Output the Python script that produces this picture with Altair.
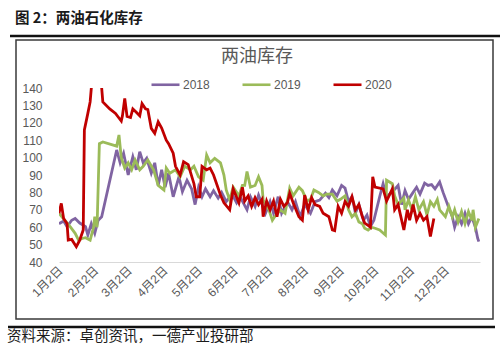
import altair as alt
import pandas as pd

# ---------------- data (day of year, value) ----------------
years = ["2018", "2019", "2020"]
colors = ["#8064A2", "#9BBB59", "#C00000"]

days_2018 = [1, 5, 8, 12, 15, 19, 24, 26, 29, 32,
             35, 38, 51, 54, 57, 61, 65, 68, 71, 74,
             77, 81, 84, 87, 90, 93, 96, 100, 105, 108,
             112, 116, 119, 122, 125, 128, 132, 135, 139, 142,
             146, 151, 155, 158, 164, 167, 171, 174, 180, 184,
             187, 191, 194, 199, 203, 206, 210, 214, 219, 223,
             227, 232, 235, 238, 242, 246, 249, 252, 255, 258,
             261, 265, 268, 271, 274, 279, 282, 285, 291, 295,
             298, 301, 304, 307, 311, 314, 318, 321, 324, 327,
             331, 334, 339, 342, 344, 347, 350, 353, 356, 359,
             362, 364, 365]
vals_2018 = [62, 63.5, 60.3, 64, 65, 62.4, 60.3, 55.5, 62, 56.5,
             64, 66, 104.4, 97, 102.5, 90, 100.5, 93, 103.4, 97,
             99.6, 91, 97, 84, 93, 83, 91, 77.5, 89, 80.4,
             87, 82, 73, 83, 77.5, 82, 77.5, 81, 76.7, 80,
             74.7, 79, 74, 77.5, 70, 77.5, 72, 78.5, 68, 74.7,
             68, 77.5, 68, 74.7, 70, 74.7, 66, 73, 68, 74.7,
             75.6, 79.5, 77, 81.4, 78, 84, 82.5, 74.7, 77.5, 68,
             73, 64, 67, 60.3, 64, 77.5, 85, 77.5, 81, 84,
             73, 81, 76, 79, 83, 79, 85.3, 84, 84.5, 82,
             86, 80, 71, 66, 60, 66, 62, 68, 62, 66,
             60, 53.6, 51.7]

days_2019 = [1, 6, 11, 15, 18, 21, 24, 28, 31, 32,
             34, 36, 39, 51, 53, 55, 58, 61, 64, 67,
             71, 74, 78, 83, 87, 92, 94, 97, 102, 106,
             110, 115, 118, 122, 126, 129, 132, 136, 141, 144,
             146, 149, 152, 157, 160, 162, 164, 167, 171, 174,
             177, 178, 183, 186, 188, 193, 197, 201, 204, 209,
             212, 216, 219, 222, 226, 230, 233, 238, 242, 245,
             249, 252, 255, 258, 261, 264, 266, 269, 272, 275,
             279, 284, 285, 290, 292, 295, 300, 301, 304, 307,
             310, 313, 317, 320, 323, 326, 329, 331, 336, 339,
             342, 344, 347, 350, 353, 356, 359, 360, 362, 365]
vals_2019 = [68, 64, 60, 56.5, 52.6, 53.5, 54, 52.6, 60, 66,
             60, 108, 109, 106.6, 113, 100, 94, 97, 93, 98.6,
             93, 95, 98.6, 93, 84, 81.4, 94, 91, 93, 89,
             95, 93, 95, 89, 87, 101.5, 97, 99.6, 97, 90,
             81.4, 75.6, 83, 78, 84, 84, 92, 83, 84, 89,
             84, 75.6, 70, 64, 66, 70, 68, 82.4, 78, 83,
             81, 75, 76, 81.4, 80, 78, 79, 79, 75, 76,
             78, 70, 66, 68, 63, 62, 59.4, 58.4, 60, 59.4,
             58.4, 55.5, 87, 85, 78, 73, 76.7, 70, 75.6, 70,
             77.5, 70, 74.7, 67, 74.7, 72, 76, 70, 66, 72,
             66, 70, 63, 69, 62, 69, 64, 70, 60, 65]

days_2020 = [1, 3, 5, 8, 9, 12, 16, 19, 22, 23,
             26, 28, 29, 31, 36, 38, 39, 45, 50, 52,
             55, 56, 58, 60, 63, 65, 68, 71, 73, 76,
             78, 81, 84, 87, 90, 94, 96, 100, 102, 106,
             109, 113, 118, 120, 123, 125, 129, 132, 135, 141,
             144, 149, 152, 157, 160, 162, 165, 168, 171, 174,
             177, 178, 181, 184, 187, 190, 193, 196, 199, 201,
             204, 209, 212, 214, 217, 220, 223, 227, 230, 235,
             238, 240, 243, 246, 249, 252, 255, 258, 261, 264,
             266, 269, 271, 273, 275, 282, 285, 290, 292, 295,
             300, 303, 305, 308, 311, 314, 317, 320, 323, 326]
vals_2020 = [68, 73.7, 65, 62, 52.6, 53, 48.8, 52.6, 58.4, 115.9,
             125.4, 132, 139.8, 160, 158, 140, 132, 128, 125.4, 123.6,
             121, 124, 134, 123.6, 123, 128, 126, 124, 131, 128,
             127.6, 116.8, 114, 120.6, 117, 110, 108, 102.5, 95, 90,
             97.6, 96, 85, 77.5, 77.5, 95, 93, 94, 90, 78.5,
             74, 70, 82, 74, 83, 75, 78, 72, 77, 73,
             76, 66, 75, 70, 75, 66, 76, 72, 74, 79.5,
             74, 66, 64, 78.5, 70, 77, 73, 72, 68, 66,
             58.4, 58, 72, 68, 74.7, 72, 77.5, 70, 73, 66,
             62.4, 61, 60, 89, 83, 82, 75, 82, 70, 73,
             58.4, 70, 64, 73, 64, 68, 64, 66, 54.6, 65]

y_ticks = [40, 50, 60, 70, 80, 90, 100, 110, 120, 130, 140]
tick_months = list(range(1, 13))

fig_title = ["图 2：两油石化库存"]
chart_title = ["两油库存"]
source_text = ["资料来源：卓创资讯，一德产业投研部"]

# ---------------- build table ----------------
frames = []
for yr, d, v in [("2018", days_2018, vals_2018),
                 ("2019", days_2019, vals_2019),
                 ("2020", days_2020, vals_2020)]:
    frames.append(pd.DataFrame({"year": yr, "day": d, "value": v}))
df = pd.concat(frames, ignore_index=True)
df["date"] = pd.Timestamp("2020-01-01") + pd.to_timedelta(df["day"] - 1, unit="D")
df = df.drop(columns=["day"])

W, H = 421, 174
PL, PT = 59, 88
GRAY = "#595959"
FONT = "Liberation Sans, Noto Sans CJK SC"

lines = alt.Chart(df).mark_line(strokeWidth=2.8, clip=True).encode(
    x=alt.X("date:T",
            title=None,
            scale=alt.Scale(domain=[alt.DateTime(year=2020, month=1, date=1),
                                    alt.DateTime(year=2020, month=12, date=31)]),
            axis=alt.Axis(values=[alt.DateTime(year=2020, month=m, date=2) for m in tick_months],
                          format="%-m月%-d日", labelAngle=-45, labelAlign="right",
                          labelBaseline="middle", labelPadding=6, ticks=False, grid=False,
                          domainColor="#d9d9d9", domainWidth=1, labelColor=GRAY,
                          labelFont=FONT, labelFontSize=12, labelOverlap=False)),
    y=alt.Y("value:Q",
            title=None,
            scale=alt.Scale(domain=[40, 140], nice=False, zero=False),
            axis=alt.Axis(values=y_ticks, ticks=False, domain=False, grid=False,
                          labelPadding=17, labelColor=GRAY, labelFont=FONT,
                          labelFontSize=12)),
    color=alt.Color("year:N",
                    scale=alt.Scale(domain=years, range=colors),
                    legend=alt.Legend(title=None, orient="none", legendX=91, legendY=-19,
                                      direction="horizontal", symbolType="stroke",
                                      symbolStrokeWidth=2.6, symbolSize=784,
                                      labelFont=FONT, labelFontSize=12, labelColor=GRAY,
                                      labelOffset=2, columnPadding=27)),
)

one = pd.DataFrame({"k": [0]})

box = alt.Chart(one).mark_rect(fillOpacity=0, stroke="#3a3a3a", strokeWidth=1.5).encode(
    x=alt.value(16 - PL), x2=alt.value(493 - PL),
    y=alt.value(40 - PT), y2=alt.value(319 - PT))

top_rule = alt.Chart(one).mark_rule(stroke="#111111", strokeWidth=2.5).encode(
    x=alt.value(10 - PL), x2=alt.value(500 - PL), y=alt.value(36 - PT))

bottom_rule = alt.Chart(one).mark_rule(stroke="#111111", strokeWidth=2.5).encode(
    x=alt.value(8 - PL), x2=alt.value(495 - PL), y=alt.value(327 - PT))

t1 = alt.Chart(pd.DataFrame({"t": fig_title})).mark_text(
    align="left", baseline="middle", font="Noto Sans CJK SC", fontSize=14.5,
    fontWeight="bold", color="#1a1a1a").encode(
    x=alt.value(15 - PL), y=alt.value(19 - PT), text="t:N")

t2 = alt.Chart(pd.DataFrame({"t": chart_title})).mark_text(
    align="center", baseline="middle", font="Noto Sans CJK SC", fontSize=18,
    color=GRAY).encode(
    x=alt.value(257 - PL), y=alt.value(57 - PT), text="t:N")

t3 = alt.Chart(pd.DataFrame({"t": source_text})).mark_text(
    align="left", baseline="middle", font="Noto Sans CJK SC", fontSize=14.5,
    color="#1a1a1a").encode(
    x=alt.value(7 - PL), y=alt.value(337 - PT), text="t:N")

chart = alt.layer(box, top_rule, bottom_rule, lines, t1, t2, t3).properties(
    width=W, height=H,
    autosize=alt.AutoSizeParams(type="none"),
    padding={"left": PL, "top": PT, "right": 503 - PL - W, "bottom": 354 - PT - H},
    background="white",
).configure_view(stroke=None)

chart.save("out.html", embed_options={"renderer": "svg", "actions": False})
